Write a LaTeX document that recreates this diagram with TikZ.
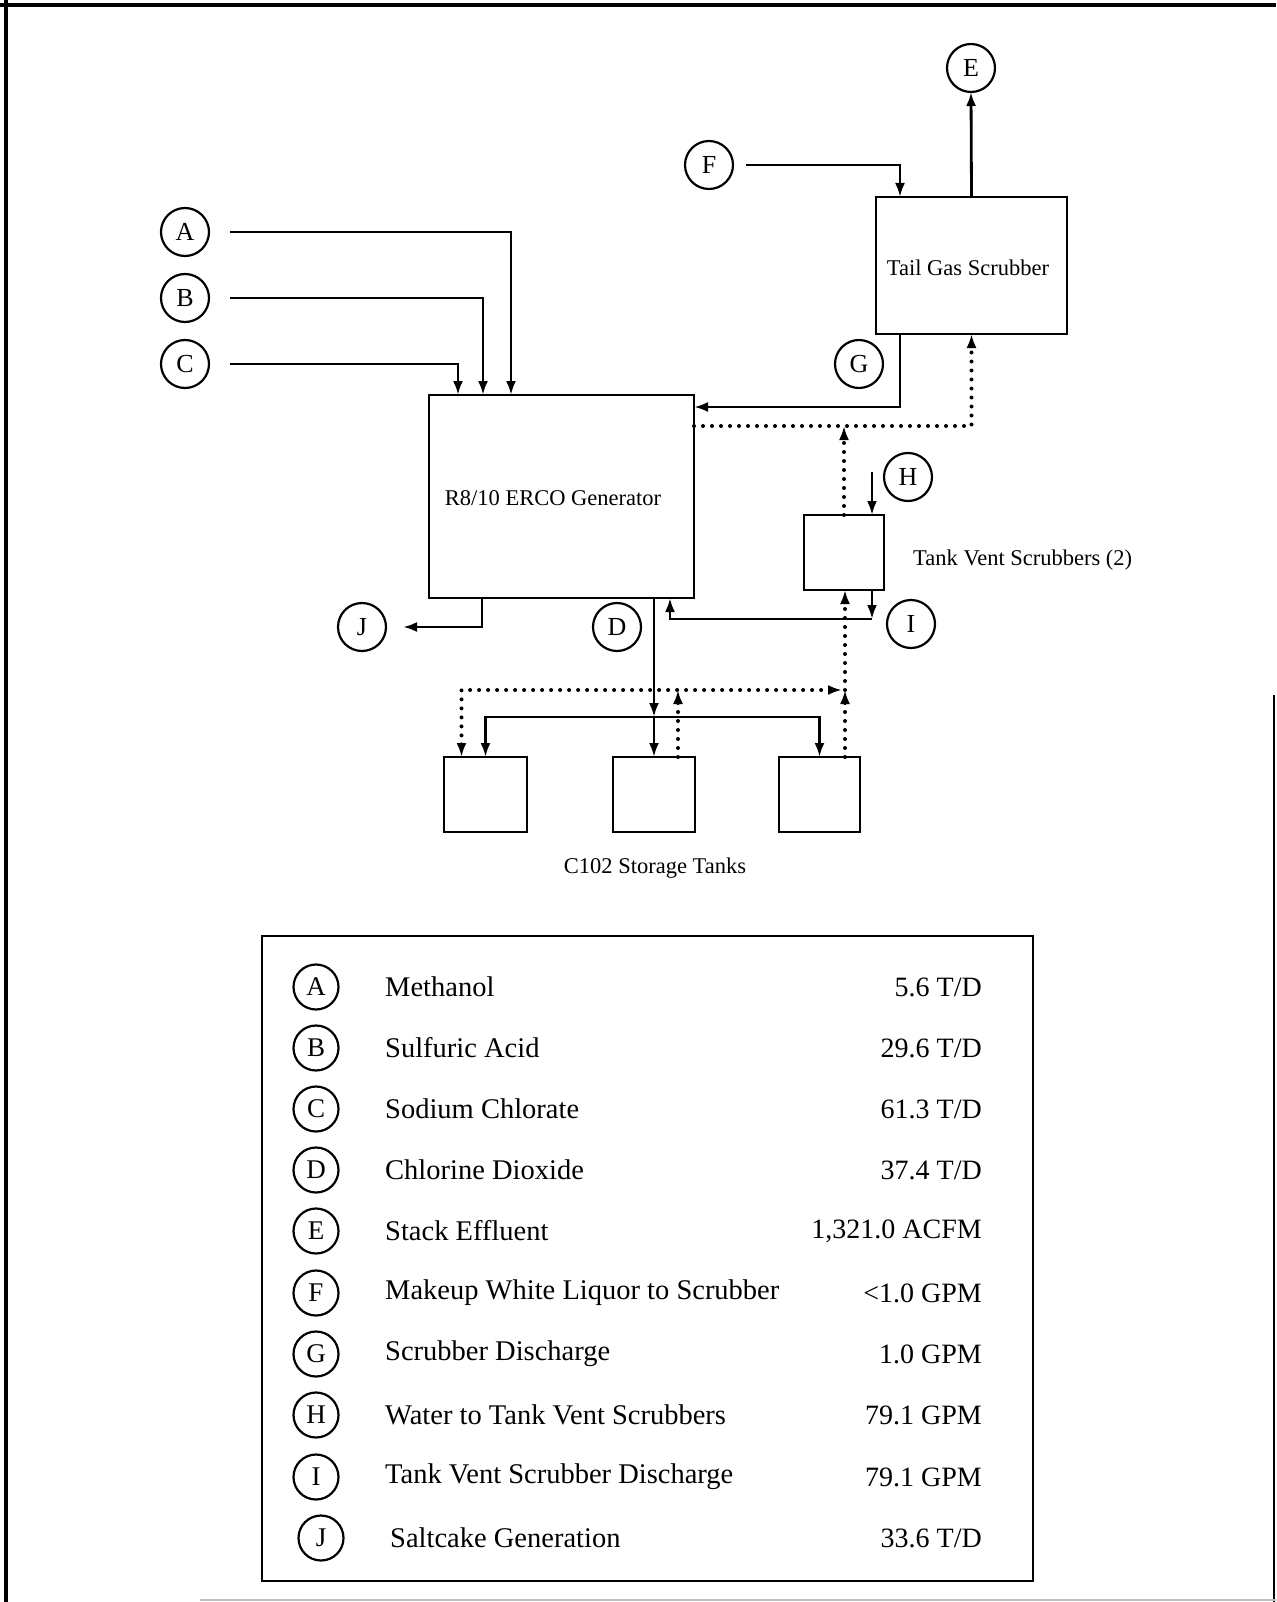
\documentclass[tikz,border=0pt]{standalone}
\usepackage{fontspec}
\setmainfont{Liberation Serif}
\usetikzlibrary{arrows.meta,calc}
\begin{document}
\begin{tikzpicture}[x=1pt,y=-1pt,
  circ/.style={circle,draw,line width=2.2pt,minimum size=48pt,inner sep=0pt,outer sep=0pt,font=\fontsize{26}{28}\selectfont},
  lcirc/.style={circle,draw,line width=2.2pt,minimum size=45pt,inner sep=0pt,outer sep=0pt,font=\fontsize{27}{29}\selectfont},
  unit/.style={draw,line width=2.8pt,inner sep=0pt,outer sep=0pt},
  lbl/.style={font=\fontsize{22.5}{24}\selectfont,inner sep=0pt},
  ltxt/.style={font=\fontsize{28.5}{31}\selectfont,inner sep=0pt,anchor=west},
  lval/.style={font=\fontsize{28}{31}\selectfont,inner sep=0pt,anchor=east},
  flow/.style={line width=2.8pt,-{Latex[length=14pt,width=10pt]}},
  dotline/.style={line width=4pt,dash pattern=on 0pt off 9pt,line cap=round},
  dflow/.style={dotline,-{Latex[length=14pt,width=10pt]}},
  frame/.style={line width=4pt}
]
\useasboundingbox (0,0) rectangle (1276,1602);
% outer frame
\draw[frame] (0,5) -- (1276,5);
\draw[frame] (6,0) -- (6,1602);
\draw[line width=2.5pt] (1274,695) -- (1274,1602);
\draw[line width=1.5pt,gray!50] (200,1600) -- (1276,1600);

% units
\node[unit,minimum width=265pt,minimum height=203pt] (gen) at (561.5,496.5) {};
\node[lbl] (genlbl) at (553,498) {R8/10 ERCO Generator};
\node[unit,minimum width=191pt,minimum height=137pt] (tgs) at (971.5,265.5) {};
\node[lbl] (tgslbl) at (968,268) {Tail Gas Scrubber};
\node[unit,minimum width=80pt,minimum height=75pt] (tvs) at (844,552.5) {};
\node[lbl,anchor=west] (tvslbl) at (913,560) {Tank Vent Scrubbers (2)};
\node[unit,minimum width=83pt,minimum height=75pt] (T1) at (485.5,794.5) {};
\node[unit,minimum width=82pt,minimum height=75pt] (T2) at (654,794.5) {};
\node[unit,minimum width=81pt,minimum height=75pt] (T3) at (819.5,794.5) {};
\node[lbl] (tankslbl) at (655,868) {C102 Storage Tanks};

% stream circles
\node[circ] (A) at (185,232) {A};
\node[circ] (B) at (185,298) {B};
\node[circ] (C) at (185,364) {C};
\node[circ] (E) at (971,68) {E};
\node[circ] (F) at (709,165) {F};
\node[circ] (G) at (859,364) {G};
\node[circ] (H) at (908,477) {H};
\node[circ] (I) at (911,624) {I};
\node[circ] (J) at (362,627) {J};
\node[circ] (D) at (617,627) {D};

% junction coordinates
\coordinate (vj) at (844,426);
\coordinate (man) at (654,717);
\coordinate (dl) at (462,690);
\coordinate (dr) at (845,690);

% feeds to generator
\draw[flow] ([xshift=21pt]A.east) -| ([xshift=82pt]gen.north west);
\draw[flow] ([xshift=21pt]B.east) -| ([xshift=54pt]gen.north west);
\draw[flow] ([xshift=21pt]C.east) -| ([xshift=29pt]gen.north west);

% tail gas scrubber
\draw[flow] ([xshift=13pt]F.east) -| ([xshift=24pt]tgs.north west);
\draw[flow] (tgs.north) -- (E.south);
\draw[flow] ([xshift=24pt]tgs.south west) |- ([yshift=-12pt]gen.north east);
\draw[dflow] ([yshift=-31pt]gen.north east) -| (tgs.south);
\draw[dflow] (tvs.north) -- (vj);

% tank vent scrubbers
\draw[flow] ([xshift=-12pt,yshift=43pt]tvs.north east) -- ([xshift=-12pt]tvs.north east);
\draw[flow] ([xshift=-12pt]tvs.south east) -- ++(0,29);
\draw[flow] ([xshift=-12pt,yshift=-29pt]tvs.south east) -| ([xshift=-24pt]gen.south east);

% saltcake
\draw[flow] ([xshift=53pt]gen.south west) |- ([xshift=17pt]J.east);

% chlorine dioxide to storage
\draw[flow] ([xshift=-40pt]gen.south east) -- (man);
\draw[flow] (man) -- (T2.north);
\draw[flow] (man) -| (T1.north);
\draw[flow] (man) -| (T3.north);

% storage vents (dotted)
\draw[dotline,{Latex[length=14pt,width=10pt]}-{Latex[length=14pt,width=10pt]}] ([xshift=-24pt]T1.north) |- ([xshift=-3pt]dr);
\draw[dflow] ([xshift=24pt]T2.north) -- ([xshift=24pt]T2.north |- dl);
\draw[dflow] (T3.north -| dr) -- (dr);
\draw[dflow] (dr) -- (tvs.south -| dr);

% legend
\node[draw,line width=2.5pt,minimum width=771pt,minimum height=645pt,inner sep=0pt,outer sep=0pt] (legend) at (647.5,1258.5) {};
\node[lcirc] (LA) at (316,987) {A};
\node[lcirc] (LB) at (316,1048) {B};
\node[lcirc] (LC) at (316,1109) {C};
\node[lcirc] (LD) at (316,1170) {D};
\node[lcirc] (LE) at (316,1231) {E};
\node[lcirc] (LF) at (316,1293) {F};
\node[lcirc] (LG) at (316,1354) {G};
\node[lcirc] (LH) at (316,1415) {H};
\node[lcirc] (LI) at (316,1477) {I};
\node[lcirc] (LJ) at (321,1538) {J};
\node[ltxt] (tA) at (385,987) {Methanol};
\node[ltxt] (tB) at (385,1048) {Sulfuric Acid};
\node[ltxt] (tC) at (385,1109) {Sodium Chlorate};
\node[ltxt] (tD) at (385,1170) {Chlorine Dioxide};
\node[ltxt] (tE) at (385,1231) {Stack Effluent};
\node[ltxt] (tF) at (385,1293) {Makeup White Liquor to Scrubber};
\node[ltxt] (tG) at (385,1354) {Scrubber Discharge};
\node[ltxt] (tH) at (385,1415) {Water to Tank Vent Scrubbers};
\node[ltxt] (tI) at (385,1477) {Tank Vent Scrubber Discharge};
\node[ltxt] (tJ) at (390,1538) {Saltcake Generation};
\node[lval] (vA) at (982,987) {5.6 T/D};
\node[lval] (vB) at (982,1048) {29.6 T/D};
\node[lval] (vC) at (982,1109) {61.3 T/D};
\node[lval] (vD) at (982,1170) {37.4 T/D};
\node[lval] (vE) at (982,1231) {1,321.0 ACFM};
\node[lval] (vF) at (982,1293) {<1.0 GPM};
\node[lval] (vG) at (982,1354) {1.0 GPM};
\node[lval] (vH) at (982,1415) {79.1 GPM};
\node[lval] (vI) at (982,1477) {79.1 GPM};
\node[lval] (vJ) at (982,1538) {33.6 T/D};
\end{tikzpicture}
\end{document}
